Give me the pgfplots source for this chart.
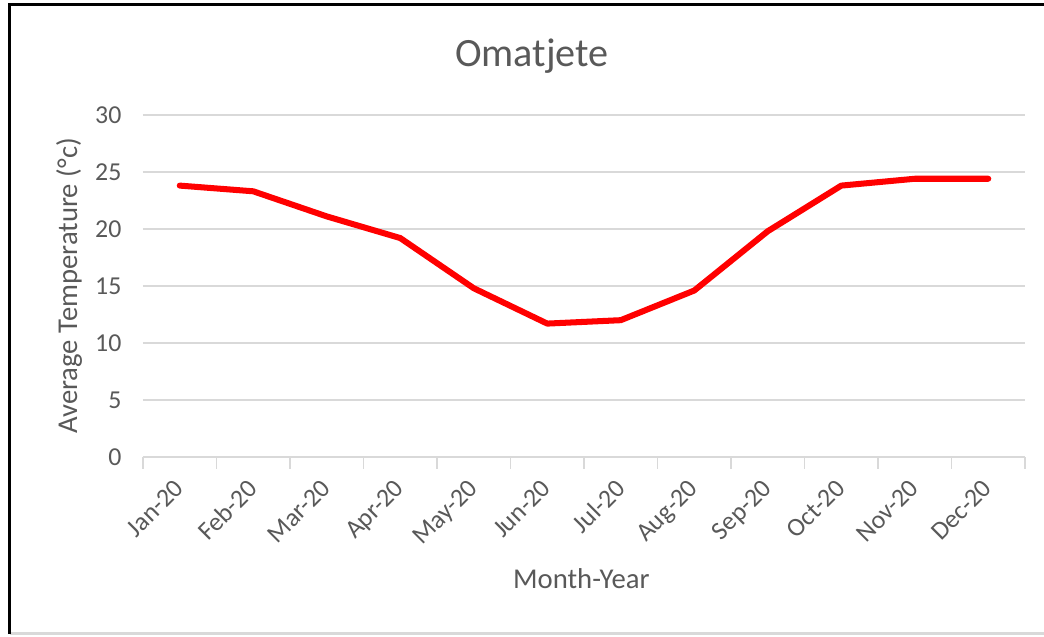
\documentclass[border=0pt]{standalone}
\usepackage{pgfplots}
\pgfplotsset{compat=1.18}
\usepackage{fontspec}
\setmainfont{Carlito}
\definecolor{txtgray}{HTML}{595959}
\definecolor{gridgray}{HTML}{D9D9D9}
\begin{document}
\begin{tikzpicture}
\begin{scope}[x=0.3484pt,y=0.3484pt]
\path[use as bounding box] (0,0) rectangle (1044,636);
\draw[line width=1pt, gridgray] (9.5,2.5) -- (1044,2.5);
\draw[line width=1.1pt, black] (9.5,2) -- (9.5,631.5) -- (1044,631.5);
\node[txtgray, font=\fontsize{14}{16}\selectfont] at (532,580) {Omatjete};
\end{scope}
\begin{axis}[
  at={(49.82pt,62.36pt)}, anchor=south west,
  scale only axis,
  width=307.3pt, height=119.2pt,
  xmin=-0.5, xmax=11.5,
  ymin=0, ymax=30,
  ytick={0,5,...,30},
  xtick={0,...,11},
  xticklabels={Jan-20,Feb-20,Mar-20,Apr-20,May-20,Jun-20,Jul-20,Aug-20,Sep-20,Oct-20,Nov-20,Dec-20},
  minor xtick={-0.5,0.5,...,11.5},
  major tick length=0pt,
  minor tick length=4pt,
  tick align=outside,
  xtick pos=bottom, ytick pos=left,
  minor tick style={gridgray, line width=0.5pt},
  axis line style={draw=none},
  ymajorgrids,
  grid style={gridgray, line width=0.6pt},
  tick label style={txtgray, font=\fontsize{9}{11}\selectfont},
  /pgf/number format/assume math mode=true,
  yticklabel style={xshift=-4pt},
  xticklabel style={xshift=-2.4pt, yshift=-5.6pt, rotate=45, anchor=north east, inner sep=1pt},
  xlabel={Month-Year},
  ylabel={Average Temperature (°c)},
  every axis x label/.style={at={(axis description cs:0.497,0)}, anchor=center, yshift=-42.5pt, txtgray, font=\fontsize{10}{12}\selectfont},
  every axis y label/.style={at={(axis description cs:-0.0839,0.5)}, anchor=center, rotate=90, txtgray, font=\fontsize{10}{12}\selectfont},
  clip=false,
]
\addplot[red, line width=2.1pt, line join=round, line cap=round] coordinates {
  (0,23.8) (1,23.3) (2,21.1) (3,19.2) (4,14.8) (5,11.7)
  (6,12.0) (7,14.6) (8,19.8) (9,23.8) (10,24.4) (11,24.4)
};
\end{axis}
\end{tikzpicture}
\end{document}
